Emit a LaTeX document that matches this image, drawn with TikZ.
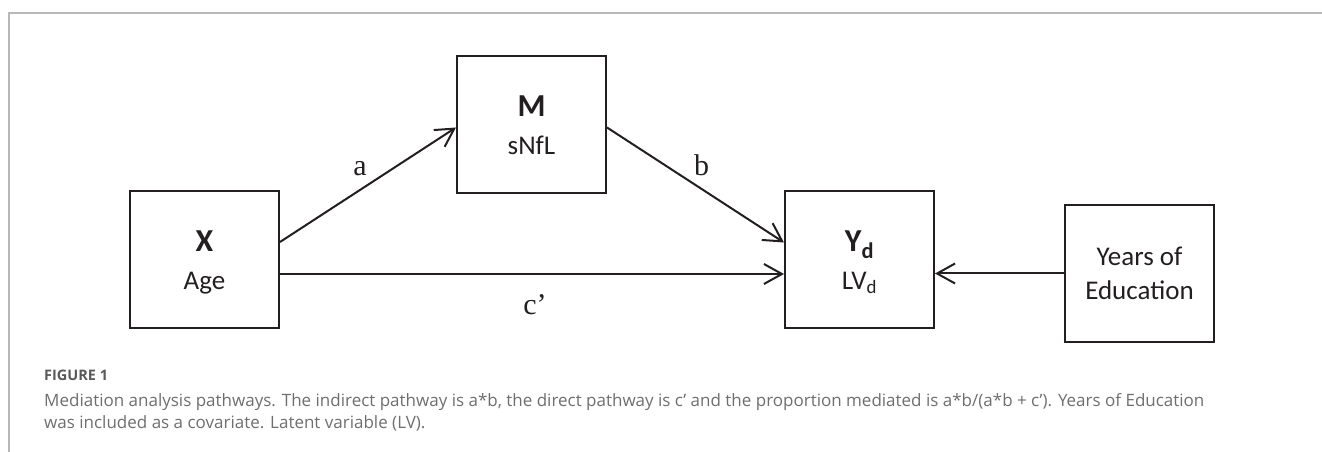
\documentclass[tikz,border=0pt]{standalone}
\usepackage{fontspec}
\newfontfamily\boxfont{Carlito}
\newfontfamily\capfont{Open Sans}
\newfontfamily\labelfont{Liberation Serif}
\usetikzlibrary{arrows.meta,positioning,calc}
\definecolor{lineBlack}{HTML}{231F20}
\definecolor{frameGray}{HTML}{B8B8B8}
\definecolor{captionGray}{HTML}{6E6E6E}
\definecolor{captionDarkGray}{HTML}{595959}
\newcommand{\vartitle}[1]{{\bfseries\fontsize{32pt}{38pt}\selectfont #1}}

\begin{document}
\begin{tikzpicture}[
            x=1pt, y=1pt,
            varbox/.style={
                    rectangle,
                    draw=lineBlack,
                    line width=2pt,
                    minimum width=149pt,
                    minimum height=137pt,
                    inner sep=0pt,
                    text depth=0pt,
                    align=center,
                    text=lineBlack,
                    font=\boxfont\fontsize{27pt}{38pt}\selectfont
                },
            arrow/.style={
                    -{Straight Barb[length=18pt,width=20pt,line width=2pt]},
                    draw=lineBlack,
                    line width=2pt
                },
            path label/.style={
                    inner sep=0pt,
                    text=lineBlack,
                    font=\labelfont\fontsize{30pt}{34pt}\selectfont
                },
            frame line/.style={
                    draw=frameGray,
                    line width=1.5pt
                },
            figure label/.style={
                    anchor=base west,
                    inner sep=0pt,
                    text=captionDarkGray,
                    font=\capfont\bfseries\fontsize{14.5pt}{16pt}\selectfont
                },
            caption line/.style={
                    anchor=base west,
                    inner sep=0pt,
                    text=captionGray,
                    font=\capfont\fontsize{17pt}{22pt}\selectfont
                }
        ]
        \useasboundingbox (0,0) rectangle (1322,452);

        % Cadre
        \draw[frame line] (9,0) -- (9,439) -- (1322,439);

        % Variables
        \node[varbox] (X) at (204.5,192) {\vartitle{X}\\Age};
        \node[varbox, above right=-4pt and 176pt of X] (M) {\vartitle{M}\\sNfL};
        \node[varbox, right=504pt of X] (Y) {\vartitle{Y\textsubscript{d}}\\LV\textsubscript{d}};
        \node[varbox, right=129pt of Y, yshift=-13.5pt, font=\boxfont\fontsize{27pt}{34pt}\selectfont] (edu) {Years of\\Education};

        % Chemins
        \draw[arrow] ([yshift=18pt]X.east) -- ([yshift=-2.5pt]M.west)
            node[path label, midway, xshift=-8pt, yshift=16.5pt] (a) {a};
        \draw[arrow] ([yshift=-2.5pt]M.east) -- ([yshift=17.5pt]Y.west)
            node[path label, midway, xshift=6pt, yshift=19.5pt] (b) {b};
        \draw[arrow] ([yshift=-14pt]X.east) -- ([yshift=-14pt]Y.west)
            node[path label, midway, xshift=3pt, yshift=-31pt] (c) {c’};
        \draw[arrow] (edu.west) -- (edu.west -| Y.east);

        % Légende
        \node[figure label] (figlabel) at (44,71) {FIGURE 1};
        \node[caption line] (capone) at (44,45) {Mediation analysis pathways. The indirect pathway is a*b, the direct pathway is c’ and the proportion mediated is a*b/(a*b~+~c’). Years of Education};
        \node[caption line] (captwo) at (44,23) {was included as a covariate. Latent variable (LV).};

    \end{tikzpicture}
\end{document}
